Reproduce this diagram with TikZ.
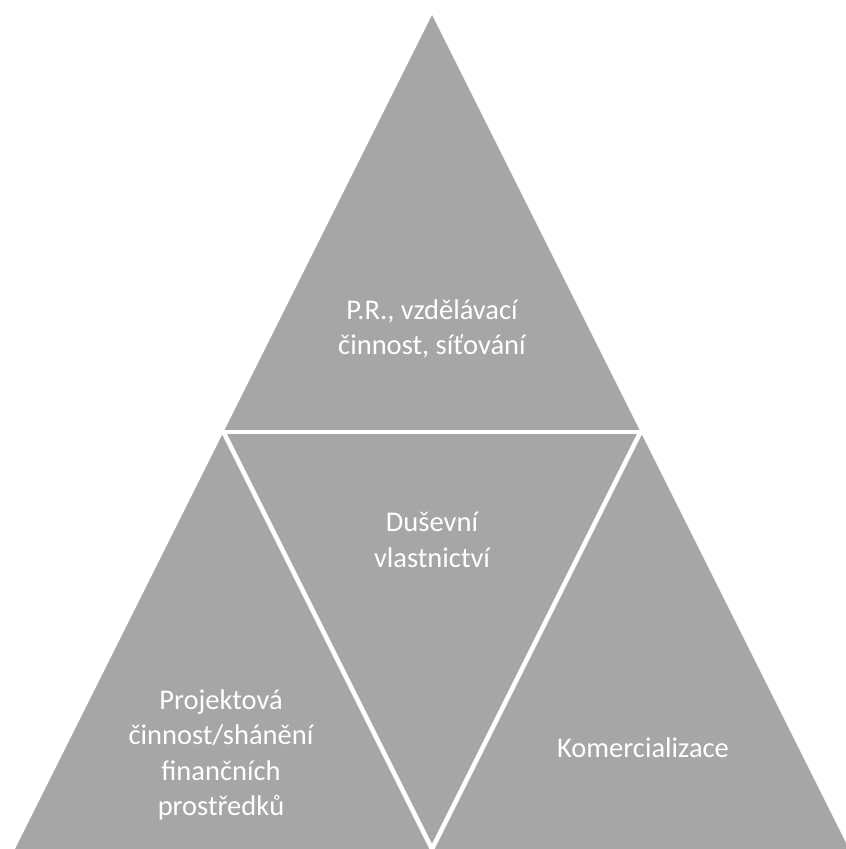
\documentclass[tikz,border=0pt]{standalone}
\usepackage{fontspec}
\setmainfont{Carlito}
\usetikzlibrary{positioning}
\definecolor{pyrgray}{RGB}{166,166,166}
\tikzset
{
    piece/.style  = {fill=pyrgray, draw=none},
    gap/.style    = {draw=white, line width=4.5pt},
    tritext/.style = {text=white, align=center, inner sep=0pt, font=\fontsize{28.5}{35.5}\selectfont}
}

\begin{document}
\begin{tikzpicture}[x=1pt, y=-1pt]
		\useasboundingbox (0,0) rectangle (846,849);
		\coordinate (apex) at (432,15);
		\coordinate (baseL) at (15,849);
		\coordinate (baseR) at (849,849);
		\coordinate (midL) at (223.5,432);
		\coordinate (midR) at (640.5,432);
		\coordinate (bot) at (432,849);
		
		\fill[piece] (apex) -- (baseR) -- (baseL) -- cycle;
		\draw[gap] (midL) -- (midR);
		\draw[gap] (midL) -- (bot) -- (midR);
		
		\node[tritext] (top) at (432,329) {P.R., vzdělávací\\činnost, síťování};
		\node[tritext] (middle) at (432,540) {Duševní\\vlastnictví};
		\node[tritext] (left) at (221,755) {Projektová\\činnost/shánění\\finančních\\prostředků};
		\node[tritext] (right) at (643,748) {Komercializace};
		
		\end{tikzpicture}
\end{document}
